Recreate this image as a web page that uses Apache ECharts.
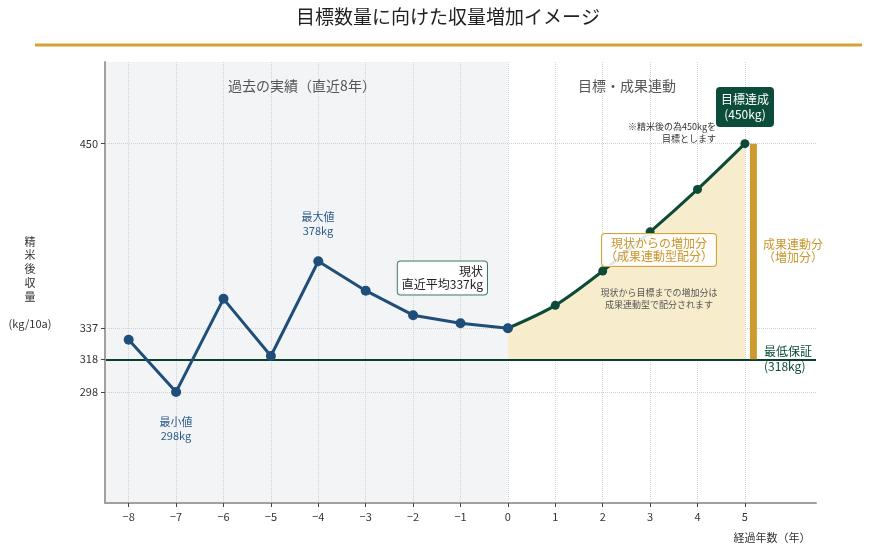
<!DOCTYPE html>
<html><head><meta charset="utf-8">
<script src="https://cdn.jsdelivr.net/npm/echarts@6/dist/echarts.min.js"></script>
<style>html,body{margin:0;padding:0;background:#fff}#c{width:870px;height:554px}</style>
</head><body><div id="c"></div>
<script>
const pastYears = [-8, -7, -6, -5, -4, -3, -2, -1, 0];
const pastValues = [330, 298, 355, 320, 378, 360, 345, 340, 337];
const futureYears = [0, 1, 2, 3, 4, 5];
const futureValues = [337, 351, 372, 396, 422, 450];
const xTicks = [-8, -7, -6, -5, -4, -3, -2, -1, 0, 1, 2, 3, 4, 5];
const yTicks = [298, 318, 337, 450];
const yGridDotted = [298, 337, 450];
const minGuarantee = 318;
const targetValue = 450;
const targetYear = 5;
const pastStart = -8.5;

const FONT = '"Noto Sans CJK JP", "Noto Sans", sans-serif';
const BLUE = '#1f4e79';
const GREEN = '#0d4a37';
const GOLD = '#cc9a30';

const chart = echarts.init(document.getElementById('c'), null, {renderer: 'canvas'});

const txt = (x, y, text, s) => ({
  type: 'text', x, y, z: 100, silent: true,
  style: Object.assign({text, font: '12px ' + FONT, fill: '#333', align: 'center', verticalAlign: 'middle'}, s)
});

const option = {
  animation: false,
  textStyle: {fontFamily: FONT},
  grid: {left: 105, right: 54, top: 62, bottom: 51, containLabel: false},
  xAxis: {
    type: 'value', min: -8.5, max: 6.5, z: 10,
    splitLine: {show: false},
    axisLine: {onZero: false, lineStyle: {color: '#a0a0a0', width: 2}},
    axisTick: {customValues: xTicks, length: 4, lineStyle: {color: '#444'}},
    axisLabel: {customValues: xTicks, fontSize: 11, color: '#333', margin: 8,
      formatter: v => String(v).replace('-', '\u2212')}
  },
  yAxis: {
    type: 'value', min: 230, max: 500, z: 10,
    splitLine: {show: false},
    axisLine: {show: true, onZero: false, lineStyle: {color: '#a0a0a0', width: 2}},
    axisTick: {show: true, customValues: yTicks, length: 4, lineStyle: {color: '#444'}},
    axisLabel: {customValues: yTicks, fontSize: 11, color: '#333', margin: 7}
  },
  series: [
    {
      type: 'line', data: [], z: 1, silent: true,
      markArea: {z: 1, silent: true, itemStyle: {color: '#f3f4f6'},
        data: [[{xAxis: pastStart}, {xAxis: 0}]]}
    },
    {
      type: 'line', data: [], z: 2, silent: true,
      markLine: {z: 2, silent: true, symbol: ['none', 'none'], label: {show: false},
        lineStyle: {type: 'dotted', color: '#cfd2d6', width: 1},
        data: xTicks.map(v => ({xAxis: v})).concat(yGridDotted.map(v => ({yAxis: v})))}
    },
    {
      name: 'future', type: 'line', z: 3,
      data: futureYears.map((x, i) => [x, futureValues[i]]),
      smooth: 0.3, symbol: 'circle', symbolSize: 9,
      lineStyle: {color: GREEN, width: 3},
      itemStyle: {color: GREEN},
      areaStyle: {origin: minGuarantee, color: '#f7edcd', opacity: 1},
      emphasis: {disabled: true}
    },
    {
      type: 'line', data: [], z: 4, silent: true,
      markLine: {z: 4, silent: true, symbol: ['none', 'none'], label: {show: false},
        lineStyle: {type: 'solid', color: '#0b3d2b', width: 2},
        data: [{yAxis: minGuarantee}]}
    },
    {
      name: 'past', type: 'line', z: 5,
      data: pastYears.map((x, i) => [x, pastValues[i]]),
      symbol: 'circle', symbolSize: 10,
      lineStyle: {color: BLUE, width: 3},
      itemStyle: {color: BLUE},
      emphasis: {disabled: true}
    },
    {
      type: 'custom', z: 6, silent: true,
      data: [[targetYear, targetValue, minGuarantee]],
      renderItem: (params, api) => {
        const top = api.coord([api.value(0), api.value(1)]);
        const bot = api.coord([api.value(0), api.value(2)]);
        return {type: 'rect', shape: {x: top[0] + 5, y: top[1], width: 7, height: bot[1] - top[1]},
          style: {fill: GOLD}};
      }
    }
  ],
  graphic: [
    txt(448, 17, '目標数量に向けた収量増加イメージ', {font: '19px ' + FONT, fill: '#222'}),
    {type: 'line', z: 100, silent: true, shape: {x1: 35, y1: 45, x2: 862, y2: 45}, style: {stroke: '#d4a335', lineWidth: 3}},
    txt(302, 86, '過去の実績（直近8年）', {font: '14px ' + FONT, fill: '#555'}),
    txt(627, 86, '目標・成果連動', {font: '14px ' + FONT, fill: '#555'}),
    txt(30, 269, '精\n米\n後\n収\n量', {font: '11px ' + FONT, fill: '#333', lineHeight: 13.7}),
    txt(30, 324, '(kg/10a)', {font: '11px ' + FONT, fill: '#333'}),
    txt(772, 538, '経過年数（年）', {font: '11px ' + FONT, fill: '#333'}),
    txt(318, 224, '最大値\n378kg', {font: '11px ' + FONT, fill: '#2a5a8a', lineHeight: 14}),
    txt(176, 429, '最小値\n298kg', {font: '11px ' + FONT, fill: '#2a5a8a', lineHeight: 14}),
    txt(487, 278, '現状\n直近平均337kg', {font: '12px ' + FONT, fill: '#222', align: 'right', lineHeight: 13.5,
      backgroundColor: 'rgba(255,255,255,0.95)', borderColor: '#3e7a6a', borderWidth: 1, borderRadius: 3, padding: [3, 4]}),
    txt(745, 107, '目標達成\n(450kg)', {font: '12px ' + FONT, fill: '#fff', lineHeight: 15,
      backgroundColor: '#0b4d3a', borderRadius: 4, padding: [5, 5]}),
    txt(716, 133, '※精米後の為450kgを\n目標とします', {font: '9px ' + FONT, fill: '#333', align: 'right', lineHeight: 12}),
    txt(659, 250, '現状からの増加分\n（成果連動型配分）', {font: '12px ' + FONT, fill: '#c9962e', lineHeight: 13,
      backgroundColor: 'rgba(255,255,255,0.88)', borderColor: '#d4a43a', borderWidth: 1, borderRadius: 3, padding: [3, 3]}),
    txt(659, 299, '現状から目標までの増加分は\n成果連動型で配分されます', {font: '9px ' + FONT, fill: '#555', lineHeight: 12}),
    txt(793, 251, '成果連動分\n（増加分）', {font: '12px ' + FONT, fill: '#c9962e', lineHeight: 13.5}),
    txt(764, 359, '最低保証\n(318kg)', {font: '12px ' + FONT, fill: '#0b4d3a', align: 'left', lineHeight: 14.5})
  ]
};
chart.setOption(option);
</script>
</body></html>
